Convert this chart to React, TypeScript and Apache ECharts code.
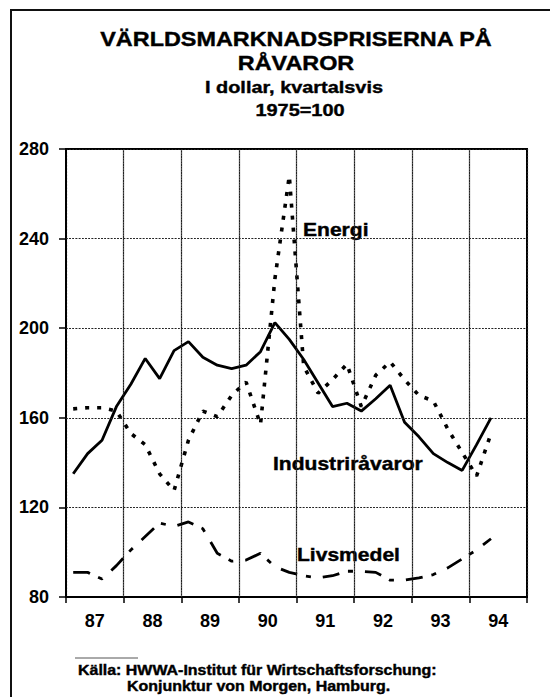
import React, { useEffect, useRef } from "react";
import * as echarts from "echarts";

// ---- data ----
const years = ["87", "88", "89", "90", "91", "92", "93", "94"];
const quarters = [
  "87:1", "87:2", "87:3", "87:4",
  "88:1", "88:2", "88:3", "88:4",
  "89:1", "89:2", "89:3", "89:4",
  "90:1", "90:2", "90:3", "90:4",
  "91:1", "91:2", "91:3", "91:4",
  "92:1", "92:2", "92:3", "92:4",
  "93:1", "93:2", "93:3", "93:4",
  "94:1", "94:2",
];
const industri = [
  135, 144, 150, 165, 175, 186.5, 177.5, 190, 194, 187, 183.5, 182, 183.5, 189.5, 202.5,
  195, 186, 175.5, 165, 166.5, 163, 168.5, 174.5, 158, 151.5, 144, 140, 136.5, 148, 160,
];
const energi = [
  164, 164.5, 164.5, 163, 153, 148, 135, 127.5, 150, 163, 160.5, 170, 176, 157, 222,
  268, 183, 171, 177, 184, 165, 179, 185, 177, 170, 167.5, 155, 144.5, 134, 153,
];
const livsmedel = [
  91, 91, 88, 94, 101, 107, 113, 111.5, 113.5, 110.5, 99.5, 96, 96.5, 99.5, 93.5,
  91, 89.5, 88.5, 89.5, 91.5, 91.5, 91, 87.5, 87.5, 88.5, 90, 93, 97, 101, 106,
];
const yMin = 80;
const yMax = 280;
const yStep = 40;
const yGridValues = [120, 160, 200, 240];

const titleLines = ["VÄRLDSMARKNADSPRISERNA PÅ", "RÅVAROR"];
const subtitleLines = ["I dollar, kvartalsvis", "1975=100"];
const sourceLines = [
  "Källa: HWWA-Institut für Wirtschaftsforschung:",
  "Konjunktur von Morgen, Hamburg.",
];
const seriesNames = ["Industriråvaror", "Energi", "Livsmedel"];

const FONT = '"Liberation Sans", Arial, Helvetica, sans-serif';
const SX = 1.17;
const QUARTERS_PER_YEAR = 4;

function txt(text: string, x: number, y: number, size: number, align: string, sx = SX) {
  return {
    type: "text",
    x,
    y,
    scaleX: sx,
    silent: true,
    style: {
      text,
      font: `bold ${size}px ${FONT}`,
      fill: "#000",
      stroke: "#000",
      lineWidth: 0.4,
      align,
      verticalAlign: "middle",
      textAlign: align,
      textVerticalAlign: "middle",
    },
  };
}

function gridLine() {
  return { show: true, lineStyle: { color: "#222", width: 1.2, type: [1.6, 1.6] } };
}

export default function App() {
  const ref = useRef<HTMLDivElement>(null);
  useEffect(() => {
    const chart = echarts.init(ref.current!, null, { renderer: "svg" });
    const pts = (vals: number[]) => quarters.map((_, i) => [i + 0.5, vals[i]]);
    const xGridValues = years.slice(1).map((_, i) => (i + 1) * QUARTERS_PER_YEAR);
    const labelStyle = {
      color: "#000",
      fontSize: 18,
      fontWeight: "bold" as const,
      fontFamily: FONT,
    };
    const option: any = {
      animation: false,
      backgroundColor: "#fff",
      grid: {
        left: 66,
        right: 23,
        top: 149,
        bottom: 100,
        show: true,
        borderColor: "#000",
        borderWidth: 2,
        backgroundColor: "transparent",
      },
      xAxis: [
        {
          type: "value",
          min: 0,
          max: years.length * QUARTERS_PER_YEAR,
          interval: QUARTERS_PER_YEAR,
          axisLine: { show: true, onZero: false, lineStyle: { color: "#000", width: 2 } },
          axisTick: { show: true, length: 6, lineStyle: { color: "#000", width: 1.5 } },
          axisLabel: { show: false },
          splitLine: gridLine(),
        },
        {
          type: "category",
          data: years,
          position: "bottom",
          offset: 0,
          axisLine: { show: false },
          axisTick: { show: false },
          axisLabel: { show: true, interval: 0, margin: 15, ...labelStyle },
          splitLine: { show: false },
        },
      ],
      yAxis: [
        {
          type: "value",
          min: yMin,
          max: yMax,
          interval: yStep,
          position: "left",
          axisLine: { show: true, onZero: false, lineStyle: { color: "#000", width: 2 } },
          axisTick: { show: true, length: 7, lineStyle: { color: "#000", width: 1.5 } },
          axisLabel: { show: true, margin: 17, ...labelStyle },
          splitLine: gridLine(),
        },
      ],
      series: [
        {
          type: "line",
          name: seriesNames[2],
          data: pts(livsmedel),
          xAxisIndex: 0,
          yAxisIndex: 0,
          symbol: "none",
          lineStyle: { color: "#000", width: 2.8, type: [17, 9, 5, 12], cap: "butt" },
          markLine: {
            silent: true,
            symbol: ["none", "none"],
            label: { show: false },
            lineStyle: { color: "#222", width: 1.2, type: [1.6, 1.6] },
            data: [
              ...yGridValues.map((v) => ({ yAxis: v })),
              ...xGridValues.map((v) => ({ xAxis: v })),
            ],
          },
        },
        {
          type: "line",
          name: seriesNames[1],
          data: pts(energi),
          xAxisIndex: 0,
          yAxisIndex: 0,
          symbol: "none",
          lineStyle: { color: "#000", width: 3.6, type: [4, 8], cap: "butt" },
        },
        {
          type: "line",
          name: seriesNames[0],
          data: pts(industri),
          xAxisIndex: 0,
          yAxisIndex: 0,
          symbol: "none",
          lineStyle: { color: "#000", width: 2.8, type: "solid" },
        },
      ],
      graphic: [
        { type: "line", silent: true, shape: { x1: 10, y1: 10, x2: 550, y2: 10 }, style: { stroke: "#111", lineWidth: 2 } },
        { type: "line", silent: true, shape: { x1: 11, y1: 10, x2: 11, y2: 697 }, style: { stroke: "#111", lineWidth: 2 } },
        txt(titleLines[0], 296, 39, 20, "center"),
        txt(titleLines[1], 296, 63.5, 20, "center"),
        txt(subtitleLines[0], 294, 87, 17, "center"),
        txt(subtitleLines[1], 300, 110.5, 17, "center"),
        txt(seriesNames[1], 303, 230, 18, "left"),
        txt(seriesNames[0], 273, 463.5, 18, "left"),
        txt(seriesNames[2], 297, 554.5, 18, "left"),
        { type: "line", silent: true, shape: { x1: 75, y1: 658, x2: 138, y2: 658 }, style: { stroke: "#555", lineWidth: 1 } },
        txt(sourceLines[0], 78, 670, 14, "left", 1.14),
        txt(sourceLines[1], 127, 686, 14, "left", 1.14),
      ],
    };
    chart.setOption(option);
    return () => chart.dispose();
  }, []);
  return (
    <div
      ref={ref}
      style={{ position: "absolute", left: 0, top: 0, width: 550, height: 697, background: "#fff" }}
    />
  );
}
